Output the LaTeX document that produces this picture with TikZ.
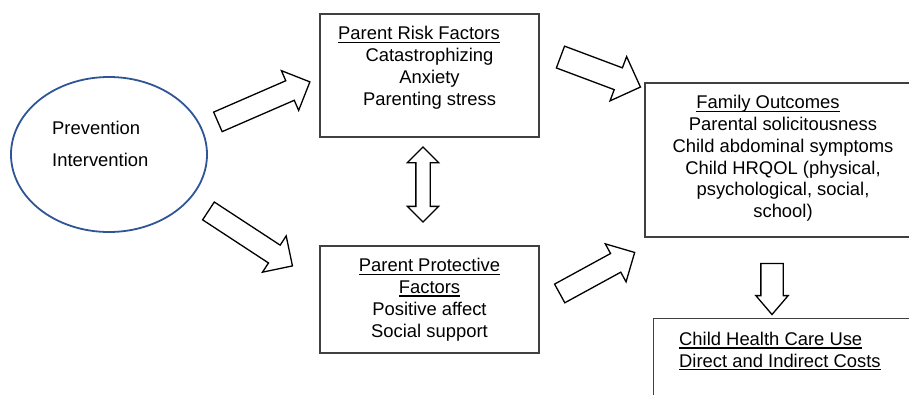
\documentclass[tikz,border=0pt]{standalone}
\usepackage{fontspec}
\setmainfont{Liberation Sans}
\usepackage{xcolor}
\usepackage{tikz}
\usetikzlibrary{calc}
\usetikzlibrary{positioning}
\usetikzlibrary{shapes.geometric}
\usetikzlibrary{shapes.arrows}

\definecolor{ovalblue}{RGB}{47,85,151}
\definecolor{boxgray}{RGB}{64,64,64}

% underline at a fixed depth
\newcommand{\ulin}[1]{\setbox0\hbox{#1}\leavevmode\rlap{\rule[-3pt]{\wd0}{1.2pt}}\box0}

\tikzset{
	frame/.style={rectangle, draw=boxgray, line width=1.1pt},
	blurb/.style={inner sep=0pt, align=center, font=\fontsize{18.4}{21.7}\selectfont},
	blockarrow/.style={single arrow, draw, line width=1.3pt, inner xsep=0pt, inner ysep=10pt, single arrow head extend=11pt},
}

% block arrow from tail #2 to tip #3
\newcommand{\fatarrow}[3][]{%
	\path let \p1=($(#3)-(#2)$), \n1={veclen(\x1,\y1)}, \n2={atan2(\y1,\x1)} in
		node[blockarrow, #1, minimum height=\n1, rotate=\n2] at ($(#2)!0.5!(#3)$) {};}

\begin{document}
\begin{tikzpicture}[x=1pt, y=-1pt]
			\useasboundingbox (0,0) rectangle (909,394);
			\clip (0,0) rectangle (909,394);
			
			\node[ellipse, draw=ovalblue, line width=1.8pt, minimum width=196pt, minimum height=155pt] (prog) at (109,154.5) {};
			\node[blurb, align=left, anchor=west] (progtext) at (52,144) {Prevention\\[10.3pt]Intervention};
			
			\node[frame, minimum width=219pt, minimum height=123pt] (risk) at (429.5,75.5) {};
			\node[blurb, below=13pt of risk.north] (risktext) {\ulin{Parent Risk Factors}\hspace*{21pt}\\Catastrophizing\\Anxiety\\Parenting stress};
			
			\node[frame, minimum width=219pt, minimum height=107pt] (protect) at (429.5,299.5) {};
			\node[blurb, below=13pt of protect.north] (protecttext) {\ulin{Parent Protective}\\\ulin{Factors}\\Positive affect\\Social support};
			
			\node[frame, minimum width=276pt, minimum height=154pt] (family) at (783,160) {};
			\node[blurb, below=13pt of family.north] (familytext) {\ulin{Family Outcomes}\hspace*{30pt}\\Parental solicitousness\\Child abdominal symptoms\hspace*{17pt}\\Child HRQOL (physical,\\psychological, social,\\school)};
			
			\node[frame, minimum width=280pt, minimum height=100pt, anchor=north west] (care) at (653,318) {};
			\node[blurb, align=left, below right=14pt and 26pt of care.north west] (caretext) {\ulin{Child Health Care Use}\\\ulin{Direct and Indirect Costs}};
			
			% Arrow ends
			\coordinate (t1) at (213,124);
			\coordinate (h1) at (305,84);
			\coordinate (t2) at (204,208);
			\coordinate (h2) at (288,263);
			\coordinate (t3) at (555,55);
			\coordinate (h3) at (635,85);
			\coordinate (t4) at (555,296);
			\coordinate (h4) at (630,255);
			\coordinate (t5) at (772,257);
			\coordinate (h5) at (772,308);
			
			% Draw arrows
			\fatarrow{t1}{h1}
			\fatarrow{t2}{h2}
			\fatarrow[inner ysep=11pt, single arrow head extend=12pt]{t3}{h3}
			\fatarrow{t4}{h4}
			\fatarrow[inner ysep=10.5pt, single arrow head extend=5pt, single arrow tip angle=81]{t5}{h5}
			\node[double arrow, draw, line width=1.3pt, inner xsep=0pt, inner ysep=6.5pt, double arrow head extend=8.5pt, minimum height=75pt, rotate=90] (swap) at (423,184.5) {};
		\end{tikzpicture}
\end{document}
